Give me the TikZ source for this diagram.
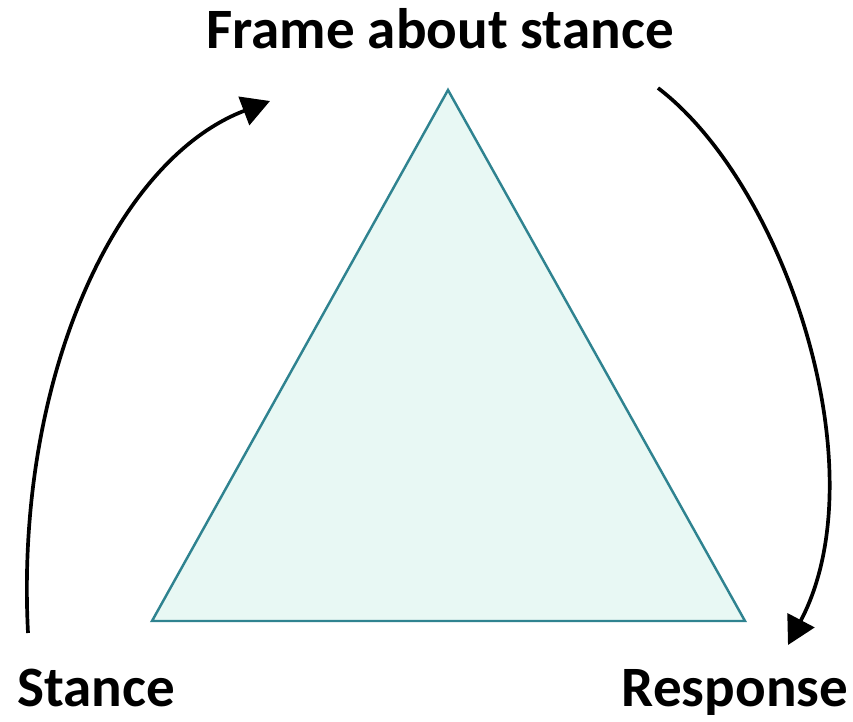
\documentclass[tikz,border=0pt]{standalone}
\usepackage{fontspec}
\setmainfont{Carlito}
\usetikzlibrary{arrows.meta}
\definecolor{tealline}{HTML}{2F8390}
\definecolor{mintfill}{HTML}{E8F8F4}
\begin{document}
\begin{tikzpicture}[
		x=0.02cm, y=-0.02cm,
		every node/.style={font=\fontsize{32.5}{36}\selectfont\bfseries, inner sep=0pt},
		tri/.style={draw=tealline, fill=mintfill, line width=1.4pt, line join=miter},
		flow/.style={line width=2.1pt, -{Triangle[length=0.56cm, width=0.6cm]}}
	]
		\useasboundingbox (0,0) rectangle (853,721);

		\node[anchor=base] (frame) at (440, 48) {Frame about stance};
		\node[anchor=base] (stance) at (96, 706) {Stance};
		\node[anchor=base] (response) at (735, 706) {Response};

		\coordinate (apex) at (448, 90);
		\coordinate (left) at (152, 621);
		\coordinate (right) at (745, 621);
		\draw[tri] (apex) -- (left) -- (right) -- cycle;

		\coordinate (s0) at (28, 633);
		\coordinate (s1) at (270, 101);
		\coordinate (r0) at (658, 88);
		\coordinate (r1) at (788, 645);
		\draw[flow] (s0) .. controls (15, 380) and (115, 160) .. (s1);
		\draw[flow] (r0) .. controls (785, 185) and (880, 470) .. (r1);
	\end{tikzpicture}
\end{document}
